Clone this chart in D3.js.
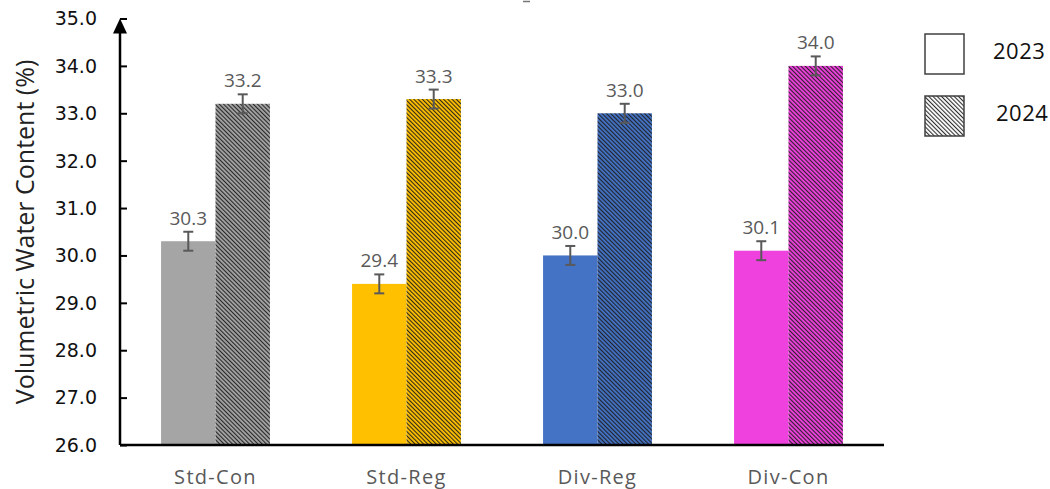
<!DOCTYPE html>
<html>
<head>
<meta charset="utf-8">
<script src="https://cdn.jsdelivr.net/npm/d3@7"></script>
<style>
  html, body { margin: 0; padding: 0; background: #fff; }
  svg { display: block; }
</style>
</head>
<body>
<svg id="chart" width="1050" height="489"></svg>
<script>
// Treatments and measured soil moisture (%) per year
const categories = ["Std-Con", "Std-Reg", "Div-Reg", "Div-Con"];
const years = ["2023", "2024"];
const values2023 = [30.3, 29.4, 30.0, 30.1];
const values2024 = [33.2, 33.3, 33.0, 34.0];
const errors2023 = [0.2, 0.2, 0.2, 0.2];
const errors2024 = [0.2, 0.2, 0.2, 0.2];
const yTicks = [26, 27, 28, 29, 30, 31, 32, 33, 34, 35];
const colors = ["#a5a5a5", "#ffc000", "#4472c4", "#ef41de"];

const svg = d3.select("#chart");
const defs = svg.append("defs");

const plotLeft = 120, plotRight = 884, plotTop = 18.5, plotBottom = 445;

const x0 = d3.scaleBand().domain(categories).range([plotLeft, plotRight])
  .paddingInner(0.43).paddingOuter(0.215);
const x1 = d3.scaleBand().domain(years).range([0, x0.bandwidth()]);
const y = d3.scaleLinear().domain([26, 35]).range([plotBottom, plotTop]);

// Diagonal hatch fills, one per treatment colour plus a plain one for the legend
function hatch(id, bg) {
  const p = defs.append("pattern")
    .attr("id", id)
    .attr("patternUnits", "userSpaceOnUse")
    .attr("width", 3).attr("height", 10)
    .attr("patternTransform", "rotate(-45)");
  p.append("rect").attr("width", 3).attr("height", 10).attr("fill", bg);
  p.append("line").attr("x1", 0.6).attr("x2", 0.6).attr("y1", 0).attr("y2", 10)
    .attr("stroke", "#1a1a1a").attr("stroke-width", 1.0);
}
colors.forEach((c, i) => hatch("hatch" + i, c));
hatch("hatchLegend", "#fff");

const rows = categories.map((c, i) => ({
  cat: c, i,
  bars: [
    { year: "2023", v: values2023[i], e: errors2023[i], fill: colors[i] },
    { year: "2024", v: values2024[i], e: errors2024[i], fill: `url(#hatch${i})` }
  ]
}));

const groups = svg.append("g").selectAll("g").data(rows).join("g")
  .attr("transform", d => `translate(${x0(d.cat)},0)`);

groups.selectAll("rect").data(d => d.bars).join("rect")
  .attr("x", d => x1(d.year))
  .attr("width", x1.bandwidth())
  .attr("y", d => y(d.v))
  .attr("height", d => plotBottom - y(d.v))
  .attr("fill", d => d.fill);

// Error bars
const eb = groups.selectAll("g.err").data(d => d.bars).join("g").attr("class", "err")
  .attr("stroke", "#595959").attr("stroke-width", 2);
eb.append("line")
  .attr("x1", d => x1(d.year) + x1.bandwidth() / 2)
  .attr("x2", d => x1(d.year) + x1.bandwidth() / 2)
  .attr("y1", d => y(d.v + d.e)).attr("y2", d => y(d.v - d.e));
[1, -1].forEach(s => {
  eb.append("line")
    .attr("x1", d => x1(d.year) + x1.bandwidth() / 2 - 5)
    .attr("x2", d => x1(d.year) + x1.bandwidth() / 2 + 5)
    .attr("y1", d => y(d.v + s * d.e)).attr("y2", d => y(d.v + s * d.e));
});

// Value labels
groups.selectAll("text.val").data(d => d.bars).join("text").attr("class", "val")
  .attr("x", d => x1(d.year) + x1.bandwidth() / 2)
  .attr("y", d => y(d.v + d.e) - 7)
  .attr("text-anchor", "middle")
  .attr("font-family", "'Open Sans', sans-serif")
  .attr("font-size", 19)
  .attr("fill", "#595959")
  .text(d => d.v.toFixed(1));

// Y axis with inward ticks and arrow head
const yAxis = d3.axisRight(y).tickValues(yTicks).tickSize(7).tickFormat("");
const yg = svg.append("g").attr("transform", `translate(${plotLeft},0)`).call(yAxis);
yg.select(".domain").remove();
yg.selectAll(".tick line").attr("stroke", "#000").attr("stroke-width", 2);
svg.append("line").attr("x1", plotLeft).attr("x2", plotLeft).attr("y1", plotBottom).attr("y2", plotTop + 8)
  .attr("stroke", "#000").attr("stroke-width", 2.5);
svg.append("path")
  .attr("d", `M${plotLeft},${plotTop} L${plotLeft - 7},${plotTop + 15} L${plotLeft + 7},${plotTop + 15} Z`)
  .attr("fill", "#000");

svg.append("g").selectAll("text").data(yTicks).join("text")
  .attr("x", 97).attr("y", d => y(d))
  .attr("dy", "0.36em")
  .attr("text-anchor", "end")
  .attr("font-family", "'DejaVu Sans', sans-serif")
  .attr("font-size", 19)
  .attr("fill", "#111")
  .text(d => d.toFixed(1));

// X axis baseline and category labels
svg.append("line").attr("x1", plotLeft).attr("x2", plotRight).attr("y1", plotBottom).attr("y2", plotBottom)
  .attr("stroke", "#000").attr("stroke-width", 2.5);
svg.append("g").selectAll("text").data(categories).join("text")
  .attr("x", d => x0(d) + x0.bandwidth() / 2)
  .attr("y", 484)
  .attr("text-anchor", "middle")
  .attr("font-family", "'Open Sans', sans-serif")
  .attr("font-size", 20)
  .attr("letter-spacing", 1.3)
  .attr("fill", "#595959")
  .text(d => d);

// Y axis title
svg.append("text")
  .attr("transform", "translate(34,232) rotate(-90)")
  .attr("text-anchor", "middle")
  .attr("font-family", "'Open Sans', sans-serif")
  .attr("font-size", 25)
  .attr("fill", "#222")
  .text("Volumetric Water Content (%)");

// Small mark at the top edge
svg.append("line").attr("x1", 523).attr("x2", 530).attr("y1", 1.5).attr("y2", 1.5)
  .attr("stroke", "#777").attr("stroke-width", 1.5);

// Legend
const legend = svg.append("g");
const legendFills = ["#fff", "url(#hatchLegend)"];
years.forEach((yr, i) => {
  const gy = 34 + i * 62;
  legend.append("rect").attr("x", 925).attr("y", gy).attr("width", 39).attr("height", 40)
    .attr("fill", legendFills[i]).attr("stroke", "#404040").attr("stroke-width", 1.5);
  legend.append("text").attr("x", 993 + i * 3).attr("y", gy + 25)
    .attr("font-family", "'Open Sans', sans-serif")
    .attr("font-size", 22)
    .attr("letter-spacing", 0.5)
    .attr("fill", "#111")
    .text(yr);
});
</script>
</body>
</html>
